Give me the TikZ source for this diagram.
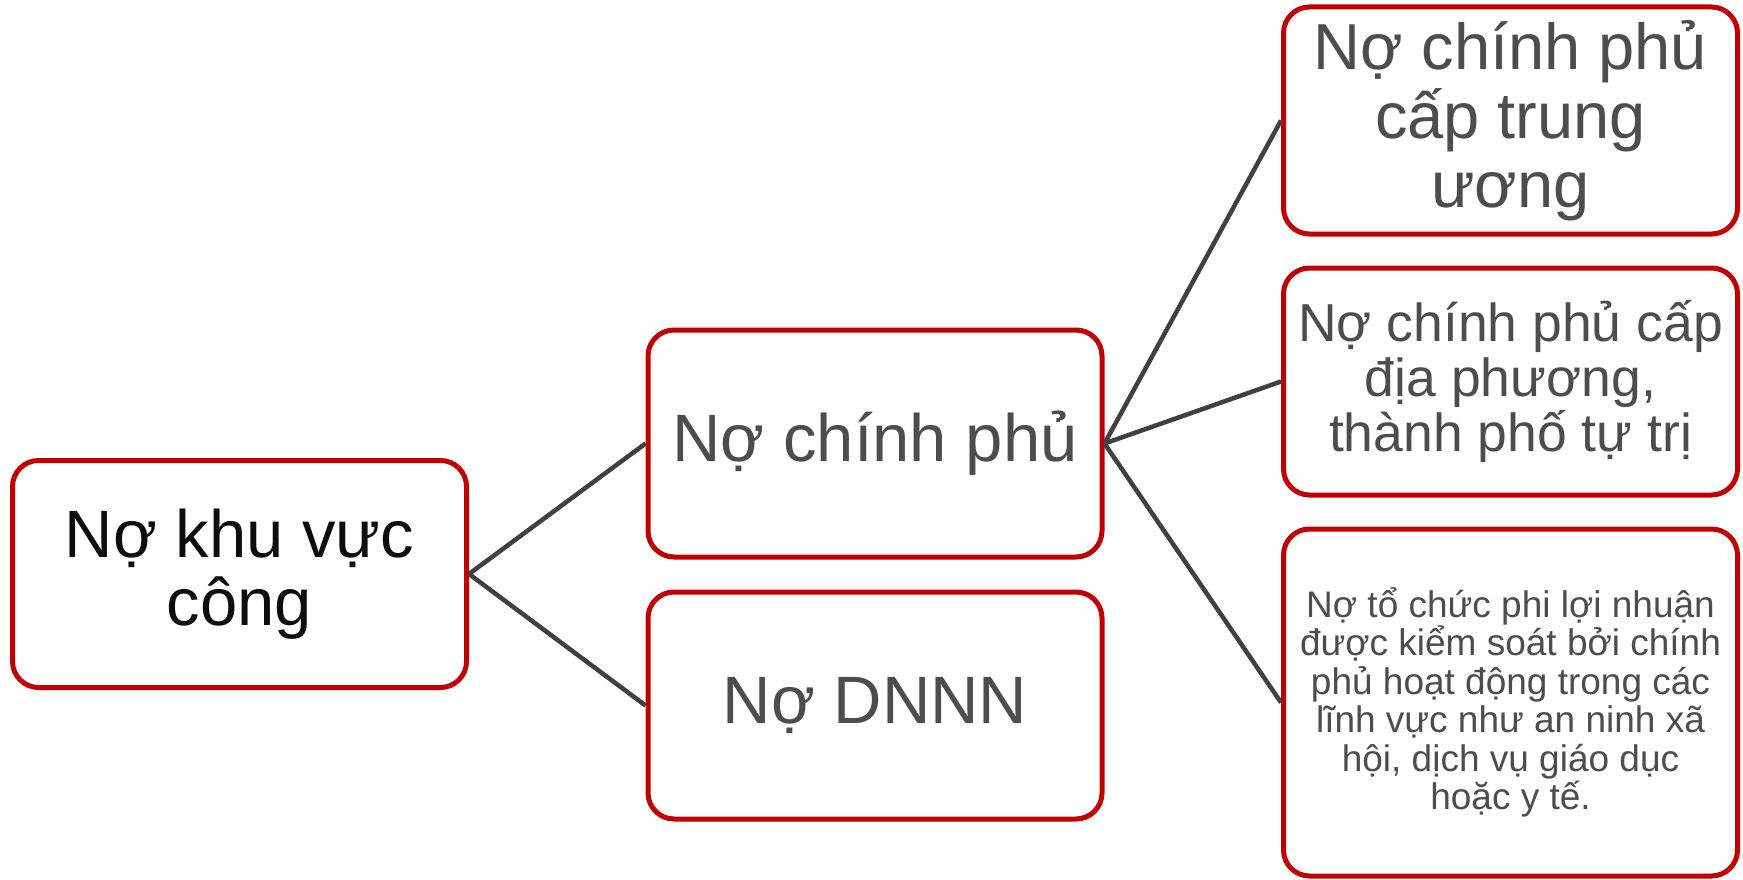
\documentclass[tikz,border=0pt]{standalone}
\usepackage{fontspec}
\setmainfont{Liberation Sans}
\definecolor{boxred}{HTML}{C00000}
\definecolor{linkgray}{HTML}{404040}
\definecolor{textgray}{HTML}{4D4D4D}
\tikzset{
  box/.style={draw=boxred, line width=5pt, rounded corners=26pt, fill=white,
    minimum width=454pt, minimum height=227pt, inner sep=0pt, align=center,
    text=textgray},
  link/.style={draw=linkgray, line width=4.5pt}
}
\begin{document}
\begin{tikzpicture}[x=1pt,y=-1pt]
\useasboundingbox (0,0) rectangle (1743,880);
\node[box, text=black!95, font=\fontsize{67}{68}\selectfont] (root) at (239.5,574)
  {Nợ khu vực\\công};
\node[box, font=\fontsize{67}{68}\selectfont] (gov) at (875,443.5) {Nợ chính phủ};
\node[box, font=\fontsize{67}{68}\selectfont] (soe) at (875,705.5) {Nợ DNNN};
\node[box, font=\fontsize{65}{69}\selectfont] (central) at (1510.5,120.5)
  {Nợ chính phủ\\cấp trung\\ương};
\node[box, font=\fontsize{53.5}{55}\selectfont] (local) at (1510.5,381.5)
  {Nợ chính phủ cấp\\địa phương,\\thành phố tự trị};
\node[box, minimum height=347pt, font=\fontsize{37}{38.5}\selectfont] (npo) at (1510.5,702.5)
  {Nợ tổ chức phi lợi nhuận\\được kiểm soát bởi chính\\phủ hoạt động trong các\\lĩnh vực như an ninh xã\\hội, dịch vụ giáo dục\\hoặc y tế.};
\draw[link] (root.east) -- (gov.west);
\draw[link] (root.east) -- (soe.west);
\draw[link] (gov.east) -- (central.west);
\draw[link] (gov.east) -- (local.west);
\draw[link] (gov.east) -- (npo.west);
\end{tikzpicture}
\end{document}
